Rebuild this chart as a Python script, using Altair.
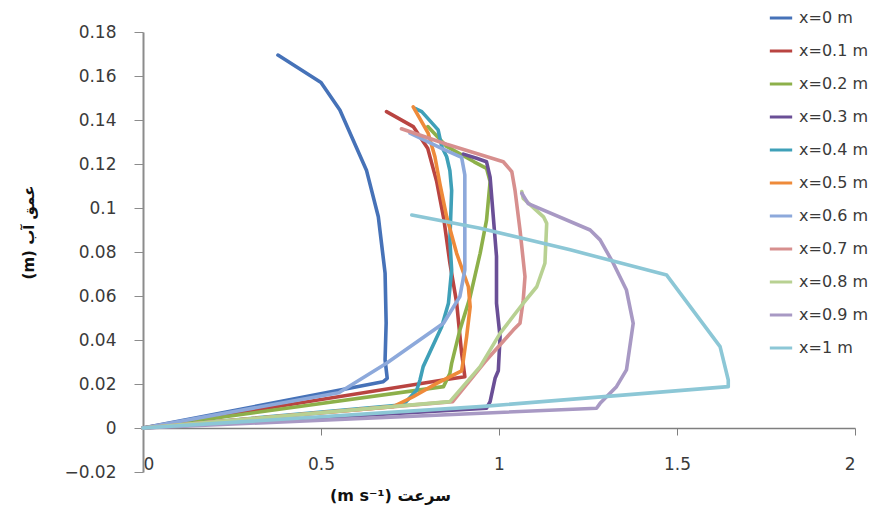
import altair as alt
import pandas as pd

series_names = ["x=0 m", "x=0.1 m", "x=0.2 m", "x=0.3 m", "x=0.4 m", "x=0.5 m",
                "x=0.6 m", "x=0.7 m", "x=0.8 m", "x=0.9 m", "x=1 m"]
series_colors = ["#4672B8", "#B94441", "#8DB04A", "#6A4F96", "#3FA0B8", "#EE8A3A",
                 "#8DA9DB", "#D78F8E", "#B8D192", "#A899C4", "#8CC7D6"]

x00_speed = [0.379, 0.50, 0.553, 0.628, 0.661, 0.680, 0.683, 0.680, 0.686, 0.674, 0]
x00_depth = [0.1695, 0.157, 0.1445, 0.117, 0.096, 0.0704, 0.0477, 0.031, 0.0226, 0.021, 0]

x01_speed = [0.684, 0.759, 0.80, 0.825, 0.845, 0.862, 0.881, 0.895, 0.899, 0.904, 0.843, 0]
x01_depth = [0.1438, 0.137, 0.127, 0.112, 0.095, 0.075, 0.057, 0.034, 0.0295, 0.0233, 0.0218, 0]

x02_speed = [0.80, 0.853, 0.93, 0.965, 0.975, 0.965, 0.947, 0.919, 0.89, 0.867, 0.862, 0.844, 0]
x02_depth = [0.137, 0.128, 0.121, 0.118, 0.112, 0.0945, 0.0794, 0.0597, 0.0445, 0.0294, 0.0248, 0.0188, 0]

x03_speed = [0.90, 0.937, 0.965, 0.975, 0.984, 0.993, 0.993, 1.003, 0.998, 0.989, 0.975, 0.965, 0]
x03_depth = [0.1245, 0.1226, 0.121, 0.114, 0.096, 0.078, 0.0567, 0.0415, 0.026, 0.0226, 0.012, 0.009, 0]

x04_speed = [0.764, 0.783, 0.829, 0.839, 0.853, 0.862, 0.867, 0.862, 0.867, 0.858, 0.839, 0.787, 0.778, 0.769, 0.731, 0]
x04_depth = [0.1453, 0.1438, 0.1355, 0.128, 0.1233, 0.117, 0.108, 0.0855, 0.0718, 0.0567, 0.046, 0.0279, 0.0218, 0.0173, 0.0105, 0]

x05_speed = [0.759, 0.801, 0.820, 0.834, 0.853, 0.881, 0.914, 0.919, 0.909, 0.90, 0.895, 0.825, 0.759, 0.703, 0]
x05_depth = [0.146, 0.134, 0.1233, 0.111, 0.096, 0.0794, 0.0642, 0.0551, 0.0415, 0.031, 0.026, 0.0203, 0.0142, 0.0097, 0]

x06_speed = [0.75, 0.84, 0.895, 0.904, 0.904, 0.904, 0.89, 0.844, 0.684, 0.55, 0]
x06_depth = [0.134, 0.127, 0.123, 0.115, 0.09, 0.0718, 0.0597, 0.0476, 0.0294, 0.016, 0]

x07_speed = [0.726, 0.853, 1.012, 1.036, 1.045, 1.059, 1.073, 1.068, 1.059, 1.04, 0.96, 0.87, 0]
x07_depth = [0.136, 0.129, 0.121, 0.1165, 0.108, 0.090, 0.0688, 0.058, 0.0476, 0.0445, 0.030, 0.012, 0]

x08_speed = [1.064, 1.068, 1.125, 1.134, 1.129, 1.106, 1.068, 1.003, 0.947, 0.862, 0]
x08_depth = [0.1075, 0.1044, 0.096, 0.093, 0.0749, 0.0642, 0.0567, 0.043, 0.0279, 0.012, 0]

x09_speed = [1.064, 1.082, 1.256, 1.284, 1.321, 1.358, 1.377, 1.358, 1.330, 1.284, 1.274, 0]
x09_depth = [0.1067, 0.102, 0.090, 0.0855, 0.0749, 0.0627, 0.0476, 0.0264, 0.0188, 0.0112, 0.009, 0]

x10_speed = [0.755, 0.947, 1.20, 1.471, 1.621, 1.644, 1.644, 0.947, 0]
x10_depth = [0.0968, 0.0908, 0.081, 0.0695, 0.037, 0.0218, 0.0188, 0.0097, 0]

speeds = [x00_speed, x01_speed, x02_speed, x03_speed, x04_speed, x05_speed,
          x06_speed, x07_speed, x08_speed, x09_speed, x10_speed]
depths = [x00_depth, x01_depth, x02_depth, x03_depth, x04_depth, x05_depth,
          x06_depth, x07_depth, x08_depth, x09_depth, x10_depth]

rows = []
for k, (name, sp, dp) in enumerate(zip(series_names, speeds, depths)):
    for i, (s, d) in enumerate(zip(sp, dp)):
        rows.append({"series": name, "k": k, "i": i, "speed": s, "depth": d})
df = pd.DataFrame(rows)

FONT = "DejaVu Sans"

chart = alt.Chart(df).mark_line(strokeWidth=3.6, strokeJoin="round", strokeCap="round").encode(
    x=alt.X("speed:Q",
            scale=alt.Scale(domain=[0, 2], nice=False, zero=False),
            axis=alt.Axis(values=[0, 0.5, 1, 1.5, 2], format="~g", offset=-44,
                          grid=False, domainColor="#7f7f7f", domainWidth=1.5,
                          tickColor="#7f7f7f", tickSize=7, labelPadding=21,
                          labelFont=FONT, labelFontSize=17, labelColor="#3a3a3a",
                          title="(m s⁻¹) سرعت", titleFont=FONT, titleFontSize=16,
                          titleFontWeight="bold", titleColor="#111111",
                          titleX=247, titleY=67, titleBaseline="middle",
                          titleAnchor="middle")),
    y=alt.Y("depth:Q",
            scale=alt.Scale(domain=[-0.02, 0.18], nice=False, zero=False),
            axis=alt.Axis(values=[-0.02, 0, 0.02, 0.04, 0.06, 0.08, 0.1, 0.12, 0.14, 0.16, 0.18],
                          format=".2~f", grid=False, domainColor="#8c8c8c", domainWidth=2,
                          tickColor="#8c8c8c", tickSize=9, labelPadding=18,
                          labelFont=FONT, labelFontSize=17, labelColor="#3a3a3a",
                          title="(m) عمق آب", titleFont=FONT, titleFontSize=15,
                          titleFontWeight="bold", titleColor="#111111",
                          titleAngle=-90, titleX=-115, titleY=200,
                          titleBaseline="middle", titleAnchor="middle")),
    color=alt.Color("series:N",
                    scale=alt.Scale(domain=series_names, range=series_colors),
                    sort=series_names,
                    legend=alt.Legend(title=None, orient="none", legendX=625, legendY=-27,
                                      labelFont=FONT, labelFontSize=16, labelColor="#3a3a3a",
                                      symbolType="stroke", symbolStrokeWidth=3,
                                      symbolSize=500, labelOffset=5, rowPadding=12,
                                      padding=0)),
    order=alt.Order("i:Q"),
    detail="k:Q",
).properties(
    width=712,
    height=440,
    autosize=alt.AutoSizeParams(type="none"),
    padding={"left": 135, "top": 24, "right": 20, "bottom": 35},
).configure_view(stroke=None)

chart.save("out.html", embed_options={"renderer": "svg", "actions": False})
